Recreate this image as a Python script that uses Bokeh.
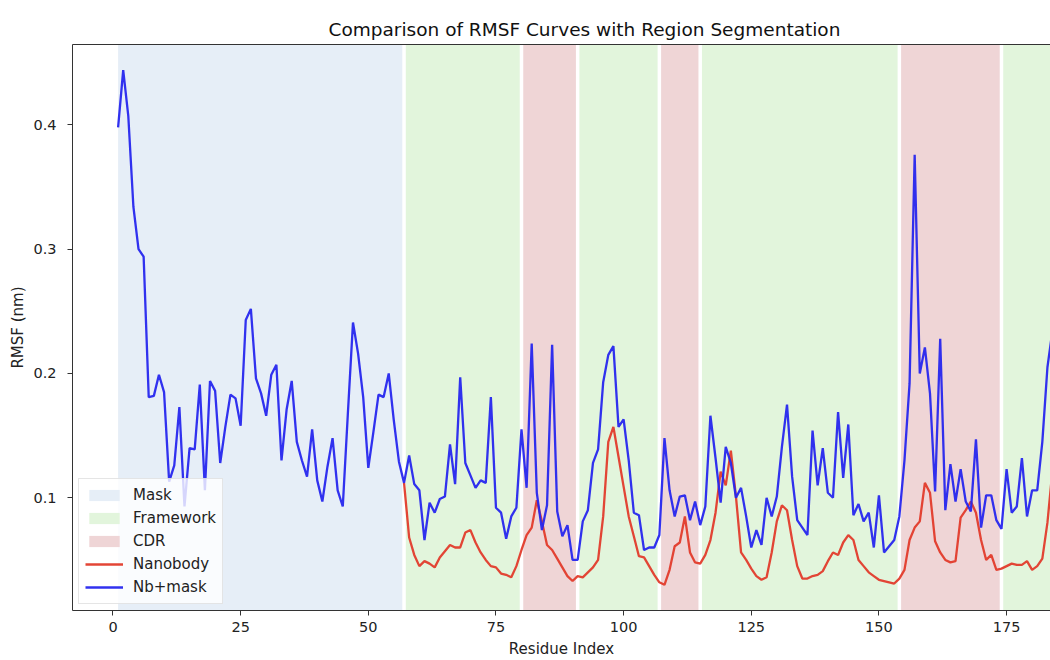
from bokeh.plotting import figure
from bokeh.models import ColumnDataSource, FixedTicker, Range1d, Legend, LegendItem, LinearAxis
from bokeh.embed import file_html
from bokeh.resources import INLINE

# ---------------- data ----------------
residue = list(range(1, 185))
nb_mask = [
    0.398, 0.444, 0.407, 0.334, 0.300, 0.294, 0.181, 0.182, 0.199, 0.185,
    0.113, 0.126, 0.173, 0.093, 0.140, 0.139, 0.191, 0.106, 0.194, 0.186,
    0.128, 0.157, 0.183, 0.180, 0.158, 0.243, 0.252, 0.196, 0.184, 0.166,
    0.199, 0.207, 0.130, 0.171, 0.194, 0.145, 0.130, 0.117, 0.155, 0.114,
    0.097, 0.125, 0.148, 0.106, 0.093, 0.168, 0.241, 0.216, 0.181, 0.124,
    0.153, 0.183, 0.181, 0.200, 0.162, 0.129, 0.112, 0.134, 0.111, 0.106,
    0.066, 0.096, 0.088, 0.099, 0.101, 0.143, 0.111, 0.197, 0.128, 0.118,
    0.108, 0.114, 0.112, 0.181, 0.092, 0.088, 0.067, 0.085, 0.092, 0.155,
    0.108, 0.224, 0.104, 0.074, 0.094, 0.223, 0.089, 0.069, 0.078, 0.050,
    0.050, 0.081, 0.090, 0.128, 0.139, 0.193, 0.215, 0.222, 0.157, 0.163,
    0.130, 0.088, 0.086, 0.058, 0.060, 0.060, 0.070, 0.148, 0.106, 0.085,
    0.101, 0.102, 0.082, 0.097, 0.078, 0.093, 0.166, 0.132, 0.096, 0.141,
    0.128, 0.100, 0.108, 0.085, 0.060, 0.074, 0.062, 0.100, 0.085, 0.101,
    0.141, 0.175, 0.117, 0.082, 0.076, 0.070, 0.154, 0.110, 0.140, 0.104,
    0.100, 0.169, 0.116, 0.159, 0.086, 0.095, 0.081, 0.088, 0.060, 0.102,
    0.056, 0.061, 0.066, 0.085, 0.130, 0.192, 0.376, 0.200, 0.221, 0.184,
    0.105, 0.228, 0.090, 0.127, 0.097, 0.123, 0.097, 0.089, 0.147, 0.076,
    0.102, 0.102, 0.082, 0.075, 0.123, 0.088, 0.093, 0.132, 0.085, 0.106,
    0.106, 0.145, 0.205, 0.235,
]

nanobody_residue = list(range(57, 185))
nanobody = [
    0.112, 0.068, 0.054, 0.045, 0.049, 0.047, 0.044, 0.052, 0.057, 0.062,
    0.060, 0.060, 0.072, 0.074, 0.064, 0.056, 0.050, 0.045, 0.044, 0.039,
    0.038, 0.036, 0.045, 0.058, 0.070, 0.076, 0.098, 0.081, 0.062, 0.058,
    0.051, 0.044, 0.037, 0.033, 0.037, 0.036, 0.040, 0.044, 0.050, 0.085,
    0.145, 0.157, 0.133, 0.109, 0.085, 0.069, 0.053, 0.052, 0.045, 0.038,
    0.032, 0.030, 0.042, 0.061, 0.064, 0.085, 0.056, 0.048, 0.047, 0.054,
    0.066, 0.088, 0.121, 0.110, 0.138, 0.101, 0.056, 0.050, 0.043, 0.037,
    0.034, 0.036, 0.056, 0.081, 0.094, 0.090, 0.066, 0.045, 0.035, 0.035,
    0.037, 0.038, 0.041, 0.049, 0.056, 0.054, 0.064, 0.070, 0.066, 0.050,
    0.045, 0.040, 0.037, 0.034, 0.033, 0.032, 0.031, 0.035, 0.042, 0.066,
    0.076, 0.081, 0.112, 0.104, 0.065, 0.056, 0.050, 0.048, 0.049, 0.084,
    0.090, 0.097, 0.088, 0.066, 0.050, 0.054, 0.042, 0.043, 0.045, 0.047,
    0.046, 0.046, 0.049, 0.042, 0.045, 0.051, 0.080, 0.123,
]

region_type = ["Mask", "Framework", "CDR", "Framework", "CDR", "Framework", "CDR", "Framework"]
region_start = [1, 57, 80, 91, 107, 115, 154, 174]
region_end = [56, 79, 90, 106, 114, 153, 173, 190]

x_ticks = [0, 25, 50, 75, 100, 125, 150, 175]
y_ticks = [0.1, 0.2, 0.3, 0.4]

region_colors = {"Mask": "#e6eef7", "Framework": "#e2f5dc", "CDR": "#efd5d6"}

FONT = "DejaVu Sans"

p = figure(
    width=1050, height=660,
    x_range=Range1d(-7.93, 183.6), y_range=Range1d(0.0093, 0.4647),
    output_backend="svg", toolbar_location=None,
    min_border_left=72, min_border_right=0, min_border_top=44, min_border_bottom=49,
    title="Comparison of RMSF Curves with Region Segmentation",
)
p.title.text_font = FONT
p.title.text_font_size = "18.5px"
p.title.text_font_style = "normal"
p.title.align = "left"
p.title.offset = 256
p.title.text_color = "#111111"

p.xgrid.visible = False
p.ygrid.visible = False
p.outline_line_color = None
p.background_fill_color = "white"

# regions
renderers = {}
for name in ["Mask", "Framework", "CDR"]:
    idx = [i for i, t in enumerate(region_type) if t == name]
    src = ColumnDataSource(dict(
        left=[region_start[i] for i in idx],
        right=[region_end[i] + 1 for i in idx],
    ))
    renderers[name] = p.quad(left="left", right="right", bottom=-1, top=2, source=src,
                             fill_color=region_colors[name], line_color=None)

# white separators at region boundaries
sep_x = region_start[1:]
p.segment(x0=sep_x, x1=sep_x, y0=[-1] * len(sep_x), y1=[2] * len(sep_x),
          line_color="white", line_width=3.5)

r_nb = p.line(nanobody_residue, nanobody, line_color="#e23b2b", line_width=2.3, line_alpha=0.95)
r_nbm = p.line(residue, nb_mask, line_color="#2626ee", line_width=2.3, line_alpha=0.95)

legend = Legend(items=[
    LegendItem(label="Mask", renderers=[renderers["Mask"]]),
    LegendItem(label="Framework", renderers=[renderers["Framework"]]),
    LegendItem(label="CDR", renderers=[renderers["CDR"]]),
    LegendItem(label="Nanobody", renderers=[r_nb]),
    LegendItem(label="Nb+mask", renderers=[r_nbm]),
], location="bottom_left")
legend.label_text_font = FONT
legend.label_text_font_size = "15px"
legend.label_text_color = "#222222"
legend.glyph_width = 38
legend.glyph_height = 14
legend.label_height = 20
legend.spacing = 3
legend.padding = 6
legend.margin = 6
legend.label_standoff = 10
legend.background_fill_alpha = 0.8
legend.border_line_color = "#cccccc"
legend.border_line_width = 1
p.add_layout(legend)

for ax in (p.xaxis[0], p.yaxis[0]):
    ax.axis_line_color = "#333333"
    ax.major_tick_line_color = "#333333"
    ax.major_tick_out = 5
    ax.major_tick_in = 0
    ax.minor_tick_out = 0
    ax.minor_tick_in = 0
    ax.major_label_text_font = FONT
    ax.major_label_text_font_size = "14.5px"
    ax.major_label_text_color = "#222222"
    ax.axis_label_text_font = FONT
    ax.axis_label_text_font_size = "15px"
    ax.axis_label_text_font_style = "normal"
    ax.axis_label_text_color = "#222222"

p.xaxis.major_label_standoff = 6
p.yaxis.major_label_standoff = 11
p.xaxis.ticker = FixedTicker(ticks=x_ticks)
p.yaxis.ticker = FixedTicker(ticks=y_ticks)
p.xaxis.axis_label = "Residue Index"
p.yaxis.axis_label = "RMSF (nm)"
p.xaxis.axis_label_standoff = 5
p.yaxis.axis_label_standoff = 3

top_axis = LinearAxis(axis_line_color="#333333", major_tick_line_color=None,
                      minor_tick_line_color=None, major_label_text_font_size="0px",
                      ticker=FixedTicker(ticks=[]))
p.add_layout(top_axis, "above")

open("out.html", "w").write(file_html(p, INLINE))
